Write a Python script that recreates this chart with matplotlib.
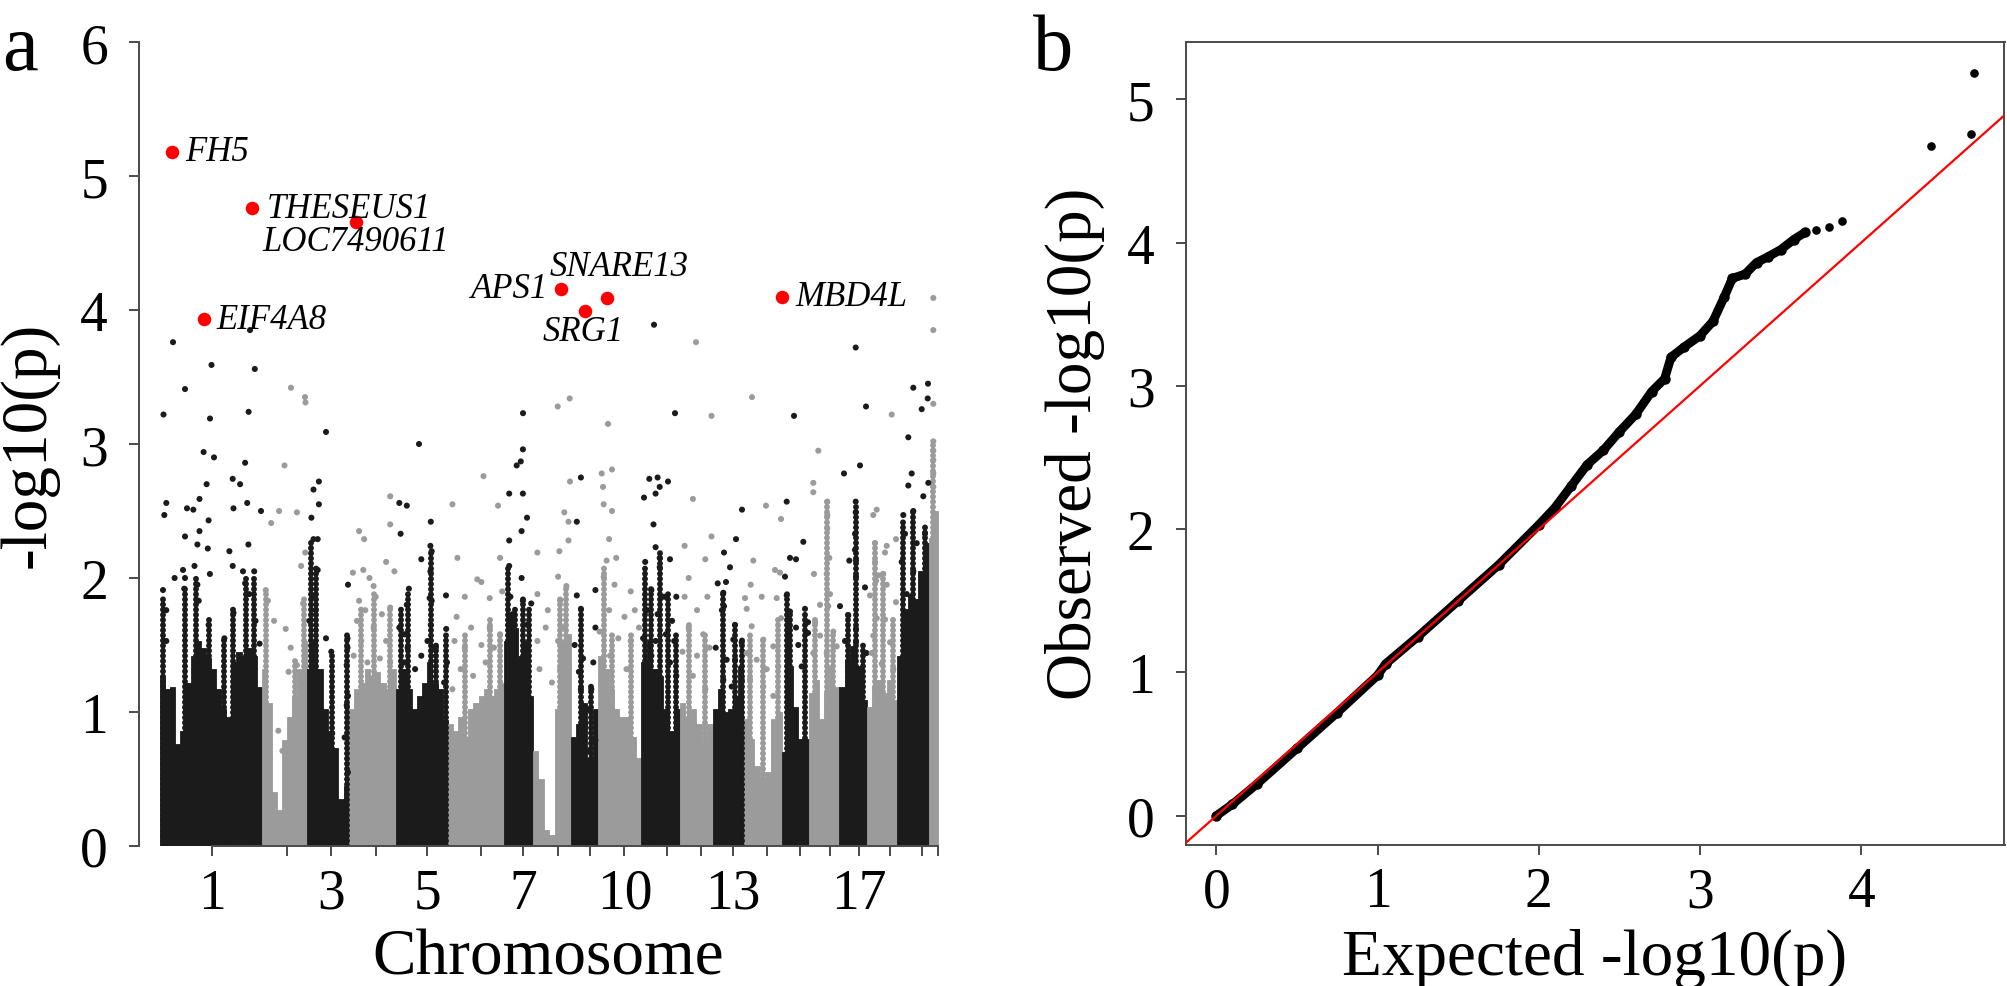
import numpy as np
import matplotlib
matplotlib.use("Agg")
import matplotlib.pyplot as plt

W, H = 2008, 987
plt.rcParams["font.family"] = ["Liberation Serif", "DejaVu Serif"]

BLACK = "#1b1b1b"
GRAY = "#9b9b9b"
RED = "#ff0000"
AXIS = "#4a4a4a"
TICK_FS = 40
LABEL_FS = 47

# chromosome layout on the cumulative position axis (chr1 starts at 160)
chrom_start = 160
chrom_len = [102, 45, 42, 47, 52, 56, 29, 38, 27, 43, 39, 33, 30, 39, 27, 30, 28, 30, 32, 9]
chrom_tick = [212, 286.7, 331.3, 375.7, 427.5, 480.6, 522.9, 558.1, 590.5, 624.5,
              667.2, 701.2, 733.0, 766.7, 800.0, 830.0, 859.3, 890.0, 921.7, 938.3]
chrom_label = ["1", "", "3", "", "5", "", "7", "", "", "10",
               "", "", "13", "", "", "", "17", "", "", ""]

# top of the packed SNP columns along each chromosome (-log10 p)
dense_top = [
    [1.27, 1.17, 1.19, 0.76, 0.86, 1.22, 1.42, 1.53, 1.48, 1.40,
     1.32, 1.17, 1.02, 0.96, 1.37, 1.45, 1.42, 1.48, 1.42, 1.19],
    [1.32, 1.07, 0.40, 0.27, 0.79, 0.96, 1.12, 1.32, 1.53],
    [1.32, 1.53, 1.32, 1.02, 0.86, 0.73, 0.35, 0.45],
    [1.02, 1.17, 1.22, 1.32, 1.27, 1.30, 1.22, 1.17, 1.32],
    [1.17, 1.32, 1.17, 1.02, 1.12, 1.22, 1.37, 1.22, 1.17, 0.94],
    [0.91, 0.86, 0.96, 0.81, 1.02, 1.07, 1.12, 1.17, 1.12, 1.17, 1.22],
    [1.53, 1.73, 1.63, 1.42, 1.53, 1.12],
    [0.71, 0.50, 0.12, 0.08, 1.02, 1.53, 1.58],
    [0.81, 0.91, 1.07, 0.66, 1.02],
    [1.42, 1.32, 1.17, 1.02, 0.96, 0.96, 0.81, 0.66],
    [1.37, 1.53, 1.32, 1.27, 1.02, 0.86, 1.02],
    [1.07, 0.96, 1.02, 0.91, 0.76, 0.91],
    [1.02, 1.17, 1.00, 1.02, 1.12, 1.34],
    [0.95, 0.80, 0.60, 0.50, 0.55, 0.95, 1.00],
    [0.70, 1.34, 1.04, 0.80, 0.80],
    [1.14, 1.24, 0.95, 1.14, 1.34, 1.19],
    [1.19, 1.39, 1.49, 1.34, 1.09],
    [1.04, 1.19, 1.24, 1.14, 1.24, 1.09],
    [1.42, 1.77, 1.88, 1.84, 2.05, 2.26],
    [2.30, 2.50],
]

# linked SNP streaks (position, top of the streak)
streak_pos = [163, 185, 196, 208.6, 224.4, 233.5, 246, 254,
              265.8, 295, 304,
              311.4, 316.4, 332, 347.5,
              361, 373.6, 390.2,
              401.4, 407.6, 430.8, 435.8, 446,
              464.8, 489.7, 500,
              508.4, 514.6, 522.9, 529,
              560.2, 566.4,
              581, 591.3,
              603.7, 612, 630.7,
              645.2, 651.4, 659.7, 668, 676.3,
              688.7, 705.3,
              723.3, 735, 741.7,
              750, 763.3, 778.3,
              786.7, 790, 805,
              815, 827.3, 833.3,
              848.3, 855.7, 863.3,
              875, 883.3, 893.3,
              903.3, 913.3, 925,
              933.3]
streak_top = [1.85, 1.95, 2.00, 1.70, 1.55, 1.80, 2.00, 2.00,
              1.90, 1.40, 1.85,
              2.30, 2.10, 1.45, 1.60,
              1.80, 1.90, 1.80,
              1.80, 1.90, 2.20, 1.50, 1.60,
              1.60, 1.70, 1.60,
              2.10, 1.80, 1.85, 1.80,
              1.85, 1.95,
              1.80, 1.20,
              2.10, 1.60, 1.60,
              2.10, 1.95, 2.20, 1.90, 1.60,
              1.65, 1.60,
              1.90, 1.65, 1.55,
              1.60, 1.55, 1.70,
              1.90, 1.75, 1.75,
              1.70, 2.60, 1.60,
              1.75, 2.55, 1.50,
              2.30, 2.05, 1.70,
              2.45, 2.50, 2.40,
              3.02]

# individual SNPs above the packed columns
snp_pos = [
    # chr1
    164.3, 166.3, 163, 166.3, 166.3, 174.6, 185, 184.2, 187, 193.3, 185, 183, 199.5,
    203.6, 214, 206.6, 208.6, 197.4, 207.8, 199.5, 194.5, 197.4, 198.7, 209.9, 208.6,
    224.4, 229.4, 232.7, 240.1, 245.1, 233.5, 247.2, 248.4, 232.7, 233.5, 243, 245.1,
    254.2, 249.3, 255.5, 259.6, 261, 173, 250, 211.5, 254.8, 185, 163.5, 210, 248.6,
    # chr2
    271.2, 279.1, 284.5, 296.9, 265.8, 267.9, 274.1, 285.7, 290.7, 288.6, 296.9, 303.1,
    301.1, 305.2, 294.9, 278.3, 282.4, 291, 305, 305.5,
    # chr3
    313.5, 318.9, 318.9, 311.4, 313.5, 317.7, 317.7, 313.5, 315.6, 309.4, 326, 331.3,
    347.5, 347.5, 346.7, 348, 346.7, 332.2, 344.6, 347.9, 348, 326,
    # chr4
    359.1, 364.1, 352.9, 363.3, 369.5, 373.6, 390.2, 390.2, 386.1, 394.4, 359.1, 365.3,
    375.7, 381.9, 357, 373.6, 390.2, 361.2, 386.1, 353.7, 367.4, 379.9, 390.2,
    # chr5
    399.3, 406.8, 400.6, 430.8, 430.4, 431.7, 421.3, 430.4, 408.9, 406.8, 429.6, 431.7,
    446, 399.3, 404.7, 407.6, 404.7, 415.1, 430.8, 435.8, 446.2, 447, 444.1, 427.5,
    421.3, 419,
    # chr6
    452.4, 483.5, 498, 457.4, 464.8, 477.3, 481.4, 500.1, 489.7, 502.2, 456.6, 471.1,
    489.7, 500.1, 454.5, 464.8, 481.4, 493.9, 460.7, 473.1, 485.6, 452.4,
    # chr7
    522.9, 516.7, 520.8, 509.2, 522.9, 527, 521.6, 509.2, 509.2, 521.6, 510.4, 522.9,
    531.2, 512.5, 508.4, 527, 523,
    # chr8
    570, 564.3, 568.5, 537.4, 559.4, 568.5, 537.4, 547.8, 558.1, 566.4, 560.2, 537.4,
    545.7, 558.1, 564.3, 539.5, 551.9, 560.2, 557.7, 569.7,
    # chr9
    580.9, 576.8, 576.8, 595.4, 580.9, 595.4, 574.7, 583, 593.3, 578.9, 580.9, 587.2,
    591.3, 585, 595.4, 589.2,
    # chr10
    601.7, 612, 603.7, 612, 609.1, 616.2, 606.6, 630.7, 603.7, 614.5, 624.5, 609.1,
    634.8, 599.6, 618.3, 630.7, 639, 610, 626.5, 608, 603,
    # chr11
    649.3, 657.6, 659.7, 655.6, 668, 644, 653.5, 655.6, 645.2, 659.7, 670, 659.7,
    651.4, 664, 676.3, 647.3, 657.6, 672.1, 643.1, 655.6, 665.9, 674.2, 651.4, 670,
    676.3, 654, 675,
    # chr12
    692.9, 684.6, 711.5, 688.7, 705.3, 684.6, 697, 707.4, 688.7, 703.2, 682.5, 697,
    709.4, 692.9, 705.3, 696, 711.5,
    # chr13
    742, 736, 724, 730, 726, 723.3, 724, 735, 733.3, 741.7, 726.7, 735, 723.3, 731.7,
    741.7, 717.7, 715.7, 721.9,
    # chr14
    766, 781, 753.3, 750.7, 761.7, 775, 780, 776.7, 745, 746.7, 781, 751.7, 763.3,
    773.3, 746.7, 756.7, 766.7, 778.3, 750, 763.3, 773.3, 752,
    # chr15
    786.7, 790, 796, 803.3, 785, 786.7, 790, 789.3, 796, 798.3, 808, 808, 805, 788.3,
    801.7, 794,
    # chr16
    813.3, 813.3, 827.3, 827.3, 827.3, 829.3, 814, 826.7, 820, 828.3, 830, 815, 820,
    833.3, 813.3, 826.7, 836.7, 818.3,
    # chr17
    855.7, 855.7, 855, 855, 849.3, 856, 856, 865, 840, 848.3, 845, 856, 856, 866.5,
    848.3, 855.7, 866, 860, 844,
    # chr18
    876.7, 886.7, 875, 883.3, 876, 870, 876.7, 885, 896, 873.3, 890, 871.7, 881.7,
    893.3, 896, 873.3, 885, 875, 878.3, 886.7, 891.7,
    # chr19
    913.3, 928, 927.7, 921.7, 908.3, 911.7, 908.3, 928.3, 923.3, 913.3, 903.3, 905,
    916.7, 925, 901.7, 913.3, 906.7,
    # chr20
    933.3, 933.3, 933.3, 933.3, 933.3, 933.3, 933.3, 933.3,
]
snp_logp = [
    # chr1
    2.47, 2.56, 1.91, 1.76, 1.53, 2.00, 2.00, 1.92, 2.52, 2.51, 2.31, 2.06, 2.59,
    2.94, 2.90, 2.70, 2.43, 2.25, 2.22, 2.35, 2.09, 1.95, 1.83, 2.03, 1.65,
    1.55, 2.20, 2.74, 2.70, 2.86, 2.52, 2.56, 2.25, 2.09, 1.74, 2.05, 1.96,
    2.05, 1.88, 1.68, 1.51, 2.50, 3.76, 3.85, 3.59, 3.56, 3.41, 3.22, 3.19, 3.24,
    # chr2
    2.41, 2.50, 2.84, 2.49, 1.91, 1.83, 1.68, 1.62, 1.48, 1.30, 1.35, 1.81,
    2.09, 2.19, 0.99, 0.86, 0.71, 3.42, 3.35, 3.31,
    # chr3
    2.66, 2.72, 2.55, 2.45, 2.29, 2.29, 2.06, 1.87, 1.76, 1.68, 1.55, 1.45,
    1.55, 1.48, 1.35, 1.12, 1.05, 0.84, 0.81, 0.55, 1.95, 3.09,
    # chr4
    2.35, 2.29, 2.04, 2.06, 2.00, 1.94, 2.61, 2.40, 2.12, 2.05, 1.83, 1.76,
    1.86, 1.73, 1.68, 1.63, 1.78, 1.53, 1.53, 1.42, 1.37, 1.40, 1.37,
    # chr5
    2.56, 2.54, 2.33, 2.42, 2.24, 2.20, 2.14, 2.05, 1.92, 1.80, 1.85, 1.83,
    1.87, 1.63, 1.58, 1.48, 1.37, 1.32, 1.65, 1.48, 1.62, 1.37, 1.22, 1.53,
    1.42, 3.00,
    # chr6
    2.55, 2.76, 2.54, 2.15, 1.86, 1.99, 1.97, 2.15, 1.85, 1.90, 1.71, 1.63,
    1.63, 1.58, 1.53, 1.48, 1.50, 1.48, 1.32, 1.27, 1.37, 1.17,
    # chr7
    2.96, 2.84, 2.87, 2.63, 2.63, 2.45, 2.35, 2.28, 2.09, 2.00, 1.86, 1.83,
    1.81, 1.73, 1.65, 1.65, 3.23,
    # chr8
    2.72, 2.49, 2.42, 2.19, 2.20, 2.28, 1.88, 1.76, 2.01, 1.94, 1.83, 1.53,
    1.63, 1.53, 1.63, 1.32, 1.22, 1.32, 3.28, 3.34,
    # chr9
    2.75, 2.42, 1.87, 1.91, 1.77, 1.63, 1.50, 1.40, 1.37, 1.30, 1.17, 1.02,
    1.17, 0.91, 0.79, 0.71,
    # chr10
    2.78, 2.81, 2.55, 2.50, 2.29, 2.15, 2.13, 1.90, 2.01, 1.95, 1.71, 1.76,
    1.76, 1.60, 1.55, 1.53, 1.63, 1.42, 1.32, 3.15, 2.68,
    # chr11
    2.74, 2.75, 2.68, 2.63, 2.72, 2.60, 2.40, 2.23, 2.12, 2.15, 2.14, 2.08,
    1.91, 1.86, 1.86, 1.76, 1.73, 1.68, 1.55, 1.53, 1.58, 1.53, 1.42, 1.37,
    1.27, 3.89, 3.23,
    # chr12
    2.59, 2.24, 2.31, 2.00, 2.14, 1.86, 1.76, 1.86, 1.63, 1.58, 1.45, 1.42,
    1.48, 1.27, 1.17, 3.76, 3.21,
    # chr13
    2.51, 2.29, 2.19, 2.08, 1.97, 1.89, 1.79, 1.65, 1.54, 1.52, 1.39, 1.39, 1.24, 1.19,
    1.24, 1.96, 1.48, 1.76,
    # chr14
    2.54, 2.44, 2.13, 1.95, 1.86, 2.06, 2.04, 1.85, 1.85, 1.77, 1.70, 1.64, 1.54,
    1.49, 1.44, 1.39, 1.32, 1.34, 1.24, 1.19, 1.12, 3.35,
    # chr15
    2.57, 2.15, 2.14, 2.27, 2.01, 1.87, 1.75, 1.64, 1.63, 1.50, 1.67, 1.59, 1.77, 1.43,
    1.34, 3.21,
    # chr16
    2.71, 2.64, 2.57, 2.47, 2.37, 2.15, 2.03, 2.03, 1.80, 1.79, 1.88, 1.67, 1.57,
    1.60, 1.44, 1.44, 1.49, 2.95,
    # chr17
    2.57, 2.49, 2.33, 2.21, 2.13, 2.13, 2.01, 1.93, 1.79, 1.72, 1.53, 1.62, 1.52, 1.44,
    1.38, 3.72, 3.28, 2.84, 2.78,
    # chr18
    2.51, 2.24, 2.26, 2.03, 1.98, 1.87, 1.70, 1.69, 1.82, 1.57, 1.52, 1.44, 1.36,
    1.32, 2.29, 2.47, 2.19, 2.12, 2.02, 1.95, 3.22,
    # chr19
    3.42, 3.45, 3.34, 3.26, 3.05, 2.78, 2.69, 2.71, 2.61, 2.50, 2.47, 2.33,
    2.26, 2.33, 2.12, 2.05, 1.88,
    # chr20
    4.09, 3.85, 3.30, 3.02, 2.95, 2.88, 2.78, 2.68,
]

# annotated candidate genes
hit_pos = [172, 204, 252, 356, 561, 585, 607.5, 782]
hit_logp = [5.18, 3.93, 4.76, 4.66, 4.16, 3.99, 4.09, 4.10]
hit_gene = ["FH5", "EIF4A8", "THESEUS1", "LOC7490611", "APS1", "SRG1", "SNARE13", "MBD4L"]

# QQ plot: dense band and the separated top SNPs
qq_band_expected = [0.00, 0.10, 0.25, 0.50, 0.75, 1.00, 1.05, 1.25, 1.50, 1.75, 2.00,
                    2.10, 2.20, 2.30, 2.40, 2.50, 2.60, 2.70, 2.78, 2.82, 2.90, 3.00,
                    3.08, 3.15, 3.20, 3.28, 3.35, 3.42, 3.50, 3.58, 3.65]
qq_band_observed = [0.00, 0.08, 0.22, 0.47, 0.72, 0.98, 1.06, 1.25, 1.50, 1.75, 2.03,
                    2.15, 2.30, 2.45, 2.55, 2.68, 2.80, 2.96, 3.05, 3.20, 3.27, 3.35,
                    3.45, 3.62, 3.75, 3.78, 3.86, 3.90, 3.95, 4.02, 4.07]
qq_tail_expected = [3.72, 3.80, 3.88, 4.43, 4.68, 4.70]
qq_tail_observed = [4.09, 4.11, 4.15, 4.67, 4.76, 5.18]


def fig_xy(x, y):
    return x / W, 1 - y / H


def chrom_colour(i):
    return BLACK if i % 2 == 0 else GRAY


def style_ticks(ax):
    ax.tick_params(axis="both", direction="out", length=7.5, width=1.4,
                   color=AXIS, labelsize=TICK_FS)
    ax.tick_params(axis="x", pad=8)
    ax.tick_params(axis="y", pad=15)


fig = plt.figure(figsize=(W / 100, H / 100), dpi=100)

# ---- a: Manhattan plot
ax1 = fig.add_axes([139.3 / W, 1 - 847 / H, (969 - 139.3) / W, (847 - 43) / H])
bounds = chrom_start + np.concatenate([[0], np.cumsum(chrom_len)])


def colours_for(positions):
    idx = np.searchsorted(bounds[1:], np.asarray(positions), side="right")
    idx = np.clip(idx, 0, len(chrom_len) - 1)
    return [chrom_colour(i) for i in idx]


for i, tops in enumerate(dense_top):
    n = len(tops)
    w = chrom_len[i] / n
    xs = bounds[i] + w * (np.arange(n) + 0.5)
    ax1.bar(xs, tops, width=w, color=chrom_colour(i), edgecolor=chrom_colour(i),
            linewidth=0.6, zorder=1)

# streaks drawn as stacks of overlapping dots
streaks = ax1.vlines(streak_pos, 0, streak_top, colors=colours_for(streak_pos),
                     linewidth=4.3, linestyles=[(0, (0.01, 0.85))], zorder=1.5)
streaks.set_capstyle("round")

ax1.scatter(snp_pos, snp_logp, s=19, c=colours_for(snp_pos), linewidths=0, zorder=2)
ax1.scatter(hit_pos, hit_logp, s=95, color=RED, linewidths=0, zorder=4)

# label placement (dx, dy in points, alignment)
label_place = {
    "FH5": (9.4, 0, "left"),
    "EIF4A8": (8.6, 0, "left"),
    "THESEUS1": (10.8, 0, "left"),
    "LOC7490611": (0, -14.4, "center"),
    "APS1": (-9.4, 0, "right"),
    "SRG1": (-1.2, -14.7, "center"),
    "SNARE13": (8.3, 22.3, "center"),
    "MBD4L": (9.4, 0, "left"),
}
for x, y, gene in zip(hit_pos, hit_logp, hit_gene):
    dx, dy, ha = label_place[gene]
    ax1.annotate(gene, (x, y), xytext=(dx, dy), textcoords="offset points",
                 ha=ha, va="center", fontsize=25, style="italic", zorder=5)

ax1.set_xlim(139.3, 969)
ax1.set_ylim(0, 6)
ax1.set_xticks(chrom_tick)
ax1.set_xticklabels(chrom_label)
ax1.set_yticks(range(7))
for side in ("top", "right"):
    ax1.spines[side].set_visible(False)
ax1.spines["left"].set_bounds(0, 6)
ax1.spines["bottom"].set_bounds(chrom_tick[0], chrom_tick[-1])
for side in ("left", "bottom"):
    ax1.spines[side].set_color(AXIS)
    ax1.spines[side].set_linewidth(1.4)
style_ticks(ax1)

# ---- b: QQ plot
ax2 = fig.add_axes([1185.7 / W, 1 - 845.7 / H, (2004.5 - 1185.7) / W, (845.7 - 43.3) / H])
ax2.plot(qq_band_expected, qq_band_observed, color="black", lw=6.4,
         solid_capstyle="round", solid_joinstyle="round", zorder=2)
ax2.plot(qq_band_expected, qq_band_observed, "o", color="black", ms=6.5, zorder=2)
ax2.plot(qq_tail_expected, qq_tail_observed, "o", color="black", ms=6.2,
         markeredgewidth=0, zorder=2)
ax2.axline((0, 0), (1, 1), color=RED, lw=1.6, zorder=3)
ax2.set_xlim(-0.19, 4.888)
ax2.set_ylim(-0.202, 5.397)
ax2.set_xticks(range(5))
ax2.set_yticks(range(6))
for side in ax2.spines.values():
    side.set_color(AXIS)
    side.set_linewidth(1.4)
style_ticks(ax2)

# ---- axis titles and panel letters
fig.text(*fig_xy(548, 975), "Chromosome", ha="center", va="baseline", fontsize=LABEL_FS)
fig.text(*fig_xy(1595, 975), "Expected -log10(p)", ha="center", va="baseline",
         fontsize=LABEL_FS)
fig.text(*fig_xy(29, 445), "-log10(p)", ha="center", va="center", rotation=90,
         fontsize=LABEL_FS)
fig.text(*fig_xy(1075, 444), "Observed -log10(p)", ha="center", va="center",
         rotation=90, fontsize=LABEL_FS)
fig.text(*fig_xy(2, 70), "a", ha="left", va="baseline", fontsize=58)
fig.text(*fig_xy(1033, 70), "b", ha="left", va="baseline", fontsize=58)

fig.savefig("out.png", dpi=100)
